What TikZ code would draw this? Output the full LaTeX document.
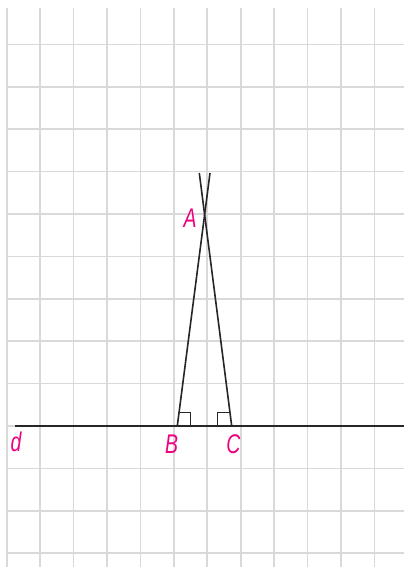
\documentclass[tikz,border=0pt]{standalone}
\usepackage{fontspec}
\setmainfont{Liberation Sans}
\begin{document}
\begin{tikzpicture}[x=1pt,y=-1pt,
  gridline/.style={draw=black!15,line width=1.6pt},
  figline/.style={draw=black!85,line width=1.6pt},
  lbl/.style={text=magenta!90!red,font=\fontsize{27}{27}\selectfont\itshape,inner sep=0pt,xscale=0.72}]
\useasboundingbox (0,0) rectangle (404,567);
\fill[white] (0,0) rectangle (404,567);
% grid
\foreach \i in {0,...,11} \draw[gridline] (6.7+33.43*\i,8) -- (6.7+33.43*\i,567);
\foreach \k in {-3,...,9} \draw[gridline] (6.7,426-42.4*\k) -- (404,426-42.4*\k);
% points
\coordinate (B) at (177.3,426);
\coordinate (C) at (231.7,426);
\coordinate (TB) at (210,173);
\coordinate (TC) at (199.3,173);
\coordinate (dl) at (15,426);
\coordinate (dr) at (404,426);
% lines
\draw[figline] (dl) -- (dr);
\draw[figline] (B) -- (TB);
\draw[figline] (C) -- (TC);
% right-angle marks
\draw[figline,line width=1.3pt] (179.1,412.6) -- (190.7,412.6) -- (190.7,426);
\draw[figline,line width=1.3pt] (229.9,412.6) -- (217.7,412.6) -- (217.7,426);
% labels
\node[lbl] (lA) at (190,218) {A};
\node[lbl] (lB) at (171.5,444) {B};
\node[lbl] (lC) at (233.5,444) {C};
\node[lbl] (ld) at (16,442) {d};
\end{tikzpicture}
\end{document}
